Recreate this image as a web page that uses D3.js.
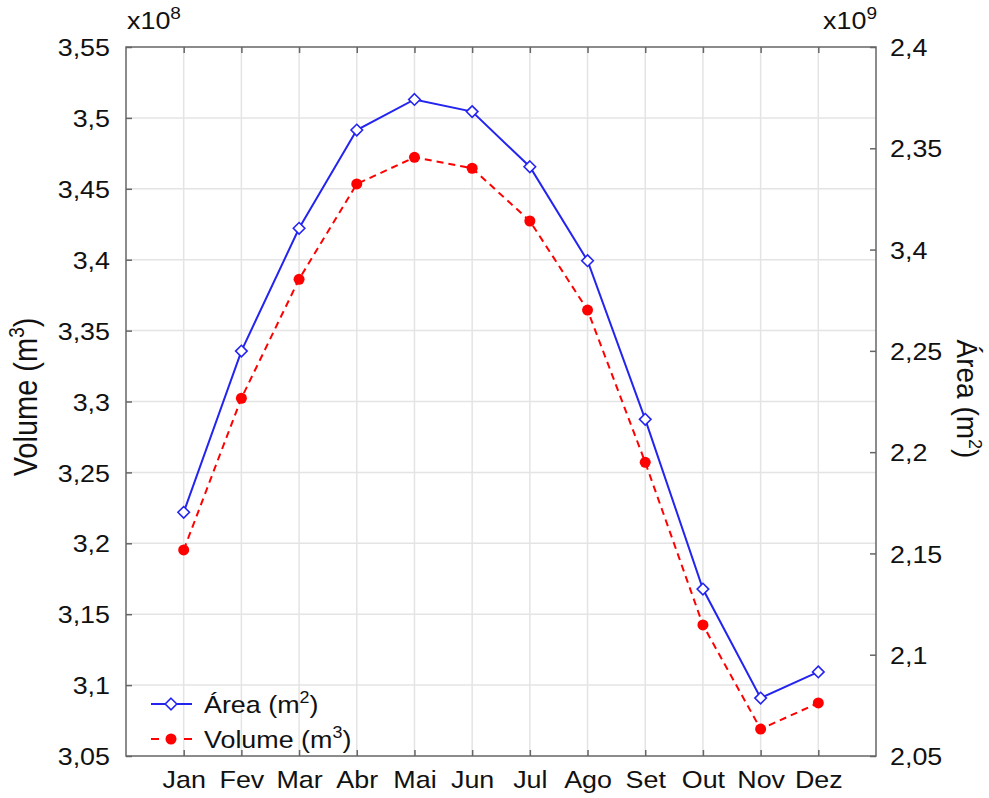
<!DOCTYPE html>
<html>
<head>
<meta charset="utf-8">
<script src="https://cdn.jsdelivr.net/npm/d3@7/dist/d3.min.js"></script>
<style>
  html, body { margin: 0; padding: 0; background: #fff; }
  svg { display: block; font-family: "Liberation Sans", Arial, sans-serif; }
</style>
</head>
<body>
<svg id="chart" width="989" height="798"></svg>
<script>
// Monthly reservoir area and volume
const months = ["Jan", "Fev", "Mar", "Abr", "Mai", "Jun", "Jul", "Ago", "Set", "Out", "Nov", "Dez"];
// Area in m² (right axis, x10^9)
const areaValues = [2.1703e9, 2.2499e9, 2.3105e9, 2.3590e9, 2.3741e9, 2.3681e9,
                    2.3409e9, 2.2945e9, 2.2162e9, 2.1324e9, 2.0786e9, 2.0915e9];
// Volume in m³ (left axis, x10^8)
const volumeValues = [3.1953e8, 3.3023e8, 3.3862e8, 3.4534e8, 3.4722e8, 3.4645e8,
                      3.4273e8, 3.3645e8, 3.2571e8, 3.1424e8, 3.0690e8, 3.0874e8];

const leftTickValues = [3.05e8, 3.1e8, 3.15e8, 3.2e8, 3.25e8, 3.3e8, 3.35e8, 3.4e8, 3.45e8, 3.5e8, 3.55e8];
const leftTickLabels = ["3,05", "3,1", "3,15", "3,2", "3,25", "3,3", "3,35", "3,4", "3,45", "3,5", "3,55"];
const rightTickValues = [2.05e9, 2.1e9, 2.15e9, 2.2e9, 2.25e9, 2.3e9, 2.35e9, 2.4e9];
const rightTickLabels = ["2,05", "2,1", "2,15", "2,2", "2,25", "3,4", "2,35", "2,4"];

const plot = { left: 126, top: 47, right: 876, bottom: 756 };
const SX = 1.12; // horizontal stretch of the lettering

const svg = d3.select("#chart");

const x = d3.scalePoint().domain(months).range([plot.left, plot.right]).padding(1);
const yL = d3.scaleLinear().domain([3.05e8, 3.55e8]).range([plot.bottom, plot.top]);
const yR = d3.scaleLinear().domain([2.05e9, 2.4e9]).range([plot.bottom, plot.top]);

const frameColor = "#666";
const gridColor = "#e4e4e4";

// grid
const grid = svg.append("g");
grid.selectAll("line.v").data(months).join("line")
  .attr("x1", d => x(d)).attr("x2", d => x(d))
  .attr("y1", plot.top).attr("y2", plot.bottom)
  .attr("stroke", gridColor).attr("stroke-width", 1.5);
grid.selectAll("line.h").data(leftTickValues.slice(1, -1)).join("line")
  .attr("x1", plot.left).attr("x2", plot.right)
  .attr("y1", d => yL(d)).attr("y2", d => yL(d))
  .attr("stroke", gridColor).attr("stroke-width", 1.5);

// axes (inward ticks)
function styleAxis(g) {
  g.select(".domain").remove();
  g.selectAll(".tick line").attr("stroke", frameColor).attr("stroke-width", 1.5);
  g.selectAll(".tick text").attr("fill", "#111").attr("font-size", 24)
    .attr("font-family", "'Liberation Sans', Arial, sans-serif");
}

const gL = svg.append("g").attr("transform", `translate(${plot.left},0)`)
  .call(d3.axisLeft(yL).tickValues(leftTickValues)
    .tickFormat((d, i) => leftTickLabels[i]).tickSizeInner(-6).tickSizeOuter(0).tickPadding(16));
styleAxis(gL);
gL.selectAll(".tick text").attr("x", -16 / SX).attr("dy", "0.36em")
  .attr("transform", `scale(${SX},1)`);

const gR = svg.append("g").attr("transform", `translate(${plot.right},0)`)
  .call(d3.axisRight(yR).tickValues(rightTickValues)
    .tickFormat((d, i) => rightTickLabels[i]).tickSizeInner(-6).tickSizeOuter(0).tickPadding(14));
styleAxis(gR);
gR.selectAll(".tick text").attr("x", 14 / SX).attr("dy", "0.36em")
  .attr("transform", `scale(${SX},1)`);

const gB = svg.append("g").attr("transform", `translate(0,${plot.bottom})`)
  .call(d3.axisBottom(x).tickSizeInner(-6).tickSizeOuter(0).tickPadding(15));
styleAxis(gB);
gB.selectAll(".tick text").attr("transform", `scale(${SX},1)`);

const gT = svg.append("g").attr("transform", `translate(0,${plot.top})`)
  .call(d3.axisTop(x).tickSizeInner(-6).tickSizeOuter(0).tickFormat(""));
styleAxis(gT);

// frame
svg.append("rect")
  .attr("x", plot.left).attr("y", plot.top)
  .attr("width", plot.right - plot.left).attr("height", plot.bottom - plot.top)
  .attr("fill", "none").attr("stroke", frameColor).attr("stroke-width", 1.5);

// series
const blue = "#2424f0";
const red = "#ff0000";
const diamond = d3.symbol().type(d3.symbolDiamond2).size(85);

const volLine = d3.line().x((d, i) => x(months[i])).y(d => yL(d));
svg.append("path").datum(volumeValues)
  .attr("d", volLine).attr("fill", "none")
  .attr("stroke", red).attr("stroke-width", 2).attr("stroke-dasharray", "7,5");
svg.append("g").selectAll("circle").data(volumeValues).join("circle")
  .attr("cx", (d, i) => x(months[i])).attr("cy", d => yL(d))
  .attr("r", 5.5).attr("fill", red);

const areaLine = d3.line().x((d, i) => x(months[i])).y(d => yR(d));
svg.append("path").datum(areaValues)
  .attr("d", areaLine).attr("fill", "none")
  .attr("stroke", blue).attr("stroke-width", 2);
svg.append("g").selectAll("path").data(areaValues).join("path")
  .attr("d", diamond)
  .attr("transform", (d, i) => `translate(${x(months[i])},${yR(d)})`)
  .attr("fill", "#fff").attr("stroke", blue).attr("stroke-width", 1.6);

// text with a superscript and closing parenthesis
function supTextParen(parent, base, sup, size, supSize, close) {
  const t = parent.append("text").attr("fill", "#111").attr("font-size", size);
  t.append("tspan").text(base);
  t.append("tspan").attr("font-size", supSize).attr("dy", -size * 0.4).text(sup);
  if (close) t.append("tspan").attr("dy", size * 0.4).text(close);
  return t;
}

// exponent labels
supTextParen(svg, "x10", "8", 24, 17, null)
  .attr("transform", `translate(${plot.left + 1},29) scale(${SX},1)`);
supTextParen(svg, "x10", "9", 24, 17, null)
  .attr("text-anchor", "end")
  .attr("transform", `translate(${plot.right + 1},29) scale(${SX},1)`);

// axis titles
supTextParen(svg, "Volume (m", "3", 29, 19, ")")
  .attr("text-anchor", "middle")
  .attr("transform", `translate(37,397) scale(${SX},1) rotate(-90)`);
supTextParen(svg, "Área (m", "2", 28, 18, ")")
  .attr("text-anchor", "middle")
  .attr("transform", `translate(957,399) scale(1.06,1) rotate(90)`);

// legend
const legend = svg.append("g");
const legendItems = [
  { label: "Área (m", sup: "2", y: 704, kind: "area" },
  { label: "Volume (m", sup: "3", y: 739, kind: "volume" }
];
legendItems.forEach(item => {
  if (item.kind === "area") {
    legend.append("line").attr("x1", 151).attr("x2", 192).attr("y1", item.y).attr("y2", item.y)
      .attr("stroke", blue).attr("stroke-width", 2);
    legend.append("path").attr("d", diamond).attr("transform", `translate(171,${item.y})`)
      .attr("fill", "#fff").attr("stroke", blue).attr("stroke-width", 1.6);
  } else {
    legend.append("line").attr("x1", 151).attr("x2", 192).attr("y1", item.y).attr("y2", item.y)
      .attr("stroke", red).attr("stroke-width", 2).attr("stroke-dasharray", "8,25");
    legend.append("circle").attr("cx", 171).attr("cy", item.y).attr("r", 5.5).attr("fill", red);
  }
  supTextParen(legend, item.label, item.sup, 24, 16, ")")
    .attr("transform", `translate(204,${item.y + 9}) scale(${SX},1)`);
});
</script>
</body>
</html>
